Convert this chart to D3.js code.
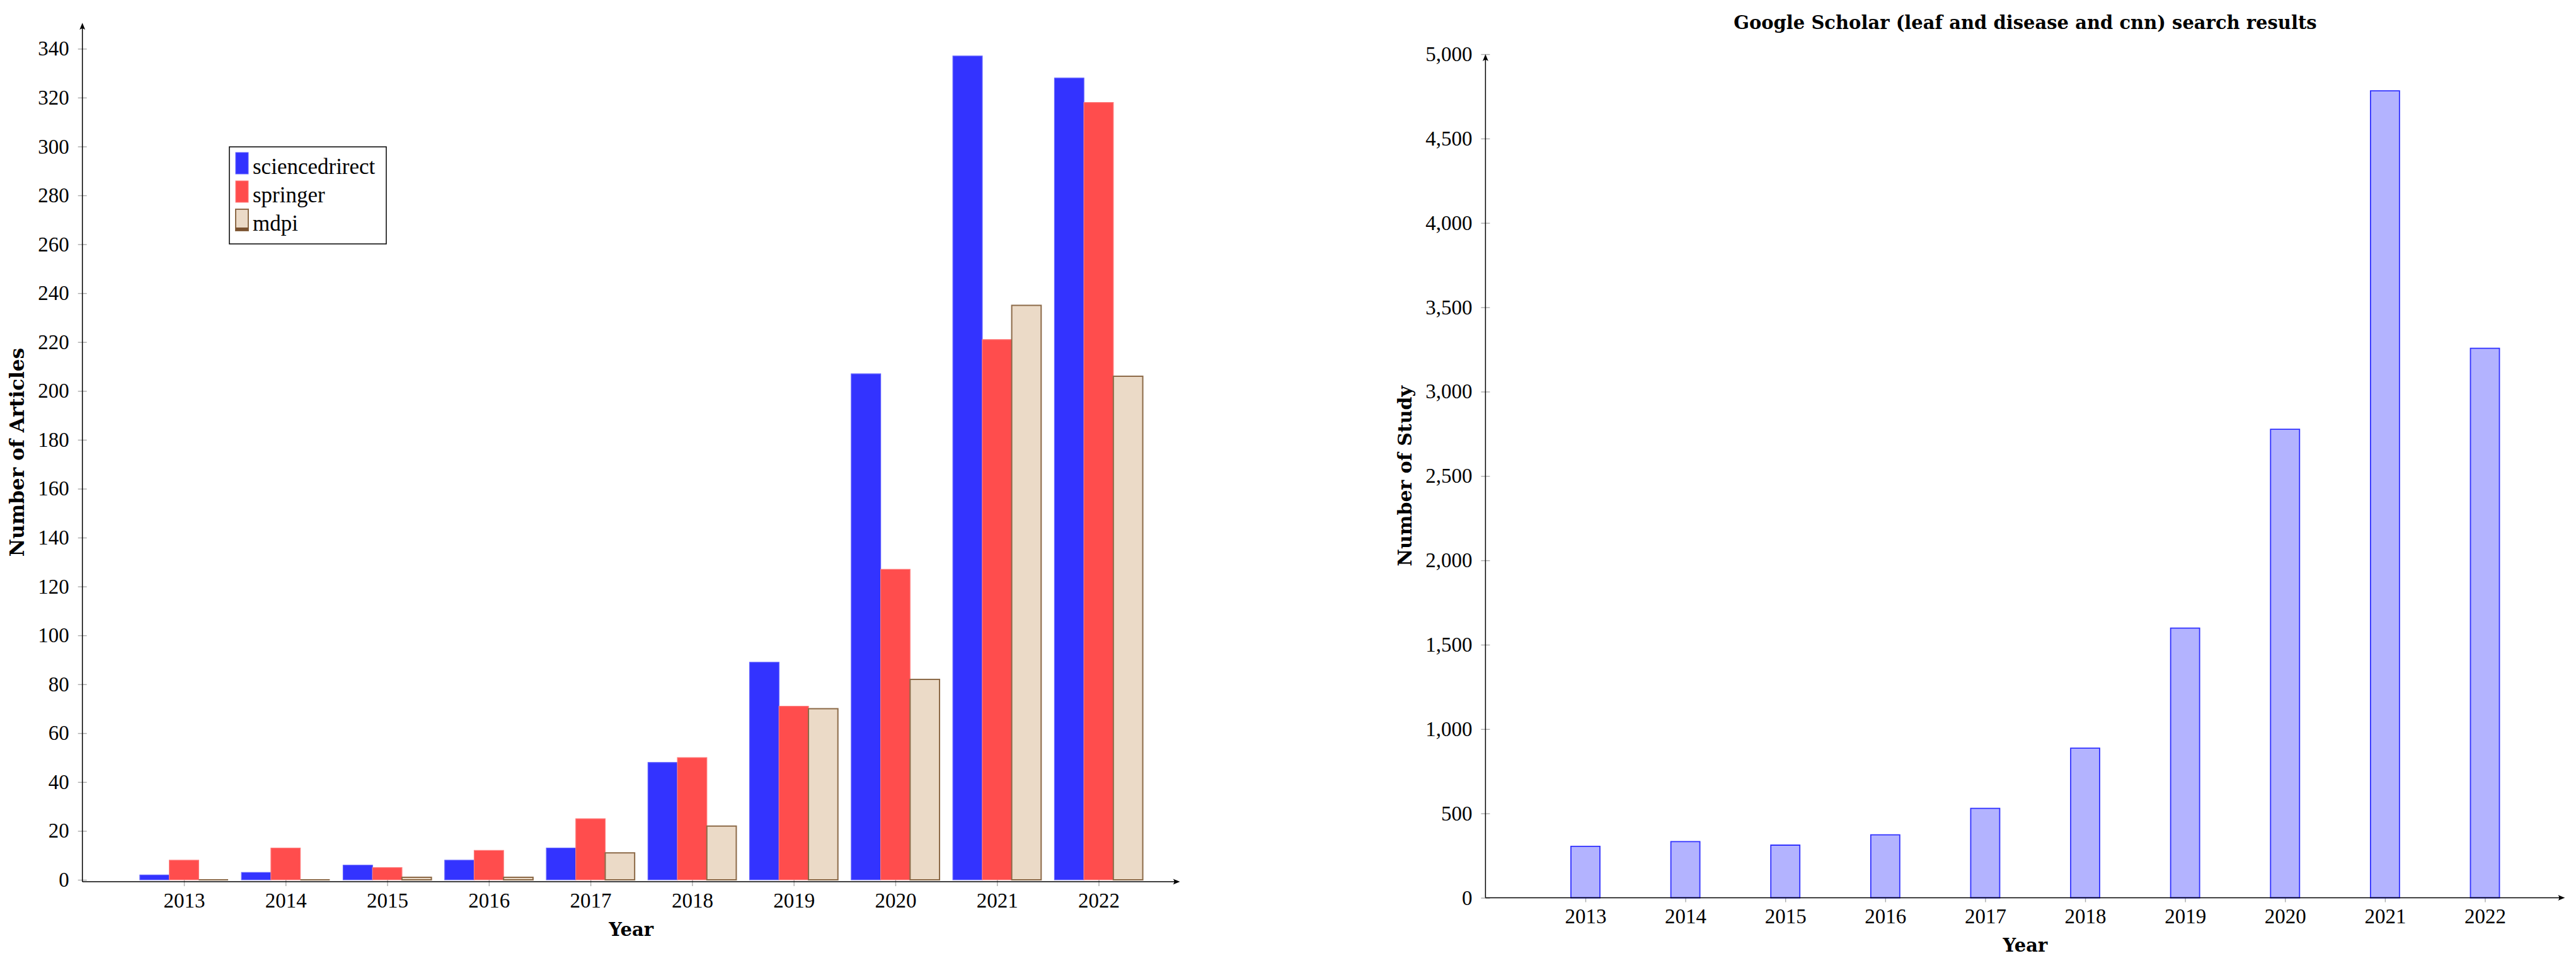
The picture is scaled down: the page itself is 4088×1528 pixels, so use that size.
<!DOCTYPE html>
<html>
<head>
<meta charset="utf-8">
<script src="https://cdn.jsdelivr.net/npm/d3@7"></script>
<style>
  body { margin: 0; background: #fff; }
  text { font-family: "Liberation Serif", serif; }
  .bold { font-family: "DejaVu Serif", serif; font-weight: bold; }
</style>
</head>
<body>
<script>
// data
var years = [2013, 2014, 2015, 2016, 2017, 2018, 2019, 2020, 2021, 2022];
var sciencedirect = [2, 3, 6, 8, 13, 48, 89, 207, 337, 328];
var springer = [8, 13, 5, 12, 25, 50, 71, 127, 221, 318];
var mdpi = [0, 0, 1, 1, 11, 22, 70, 82, 235, 206];
var scholar = [305, 333, 312, 373, 530, 887, 1598, 2777, 4783, 3257];

var leftTicks = [0, 20, 40, 60, 80, 100, 120, 140, 160, 180, 200, 220, 240, 260, 280, 300, 320, 340];
var rightTicks = [0, 500, 1000, 1500, 2000, 2500, 3000, 3500, 4000, 4500, 5000];

var seriesNames = ["sciencedrirect", "springer", "mdpi"];
var seriesValues = [sciencedirect, springer, mdpi];
var seriesFill = ["#3333ff", "#ff4d4d", "#ebdac7"];
var seriesStroke = ["#5e5eff", "#ff7a7a", "#8c6a48"];
var seriesStrokeW = [1.2, 1.2, 2];

var W = 4088, H = 1528;
var svg = d3.select("body").append("svg")
    .attr("width", W)
    .attr("height", H);

function barPath(x0, x1, y0, y1) {
  return "M" + x0 + "," + y0 + "V" + y1 + "H" + x1 + "V" + y0 + "Z";
}

function arrowUp(g, x, y) {
  g.append("path")
    .attr("d", "M" + x + "," + y + "L" + (x - 4.5) + "," + (y + 11) + "Q" + x + "," + (y + 7) + " " + (x + 4.5) + "," + (y + 11) + "Z")
    .attr("fill", "#000");
}
function arrowRight(g, x, y) {
  g.append("path")
    .attr("d", "M" + x + "," + y + "L" + (x - 11) + "," + (y - 4.5) + "Q" + (x - 7) + "," + y + " " + (x - 11) + "," + (y + 4.5) + "Z")
    .attr("fill", "#000");
}

function styleAxis(g) {
  g.select(".domain").remove();
  g.attr("font-family", "Liberation Serif, serif").attr("font-size", 33);
  g.selectAll(".tick line").attr("stroke", "#aaaaaa").attr("stroke-width", 1.4);
  g.selectAll(".tick text").attr("fill", "#000");
}

// ---------------- left chart ----------------
var xL = d3.scaleLinear().domain([2013, 2022]).range([292, 1743.5]);
var yL = d3.scaleLinear().domain([0, 340]).range([1396, 77.3]);
var axL = xL(2012), axLEnd = xL(2022.8);
var ayL = yL(-0.8), ayLTop = yL(350.6);
var bwL = 46.7;

var left = svg.append("g");

var gyL = left.append("g")
    .attr("transform", "translate(" + axL + ",0)")
    .call(d3.axisLeft(yL).tickValues(leftTicks).tickSize(7).tickPadding(14));
styleAxis(gyL);
gyL.selectAll(".tick line").attr("x1", 7);

var gxL = left.append("g")
    .attr("transform", "translate(0," + ayL + ")")
    .call(d3.axisBottom(xL).tickValues(years).tickFormat(d3.format("d")).tickSize(7).tickPadding(10));
styleAxis(gxL);
gxL.selectAll(".tick line").attr("y1", -7);

seriesValues.forEach(function(vals, s) {
  left.append("g").selectAll("path")
    .data(vals)
  .enter().append("path")
    .attr("d", function(d, i) {
      var cx = xL(years[i]) + (s - 1) * bwL;
      return barPath(cx - bwL / 2, cx + bwL / 2, yL(0), yL(d));
    })
    .attr("fill", seriesFill[s])
    .attr("stroke", seriesStroke[s])
    .attr("stroke-width", seriesStrokeW[s]);
});

// axis lines
left.append("line")
    .attr("x1", axL).attr("x2", axL).attr("y1", ayL).attr("y2", ayLTop + 4)
    .attr("stroke", "#000").attr("stroke-width", 1.5);
arrowUp(left, axL, ayLTop);
left.append("line")
    .attr("x1", axL).attr("x2", axLEnd - 4).attr("y1", ayL).attr("y2", ayL)
    .attr("stroke", "#000").attr("stroke-width", 1.5);
arrowRight(left, axLEnd, ayL);

// legend
var leg = left.append("g").attr("transform", "translate(364,233)");
leg.append("rect")
    .attr("width", 249).attr("height", 154)
    .attr("fill", "#fff").attr("stroke", "#000").attr("stroke-width", 1.5);
seriesNames.forEach(function(name, s) {
  var row = leg.append("g").attr("transform", "translate(10," + (9 + s * 45) + ")");
  row.append("rect")
      .attr("width", 20).attr("height", 34)
      .attr("fill", seriesFill[s]).attr("stroke", seriesStroke[s]).attr("stroke-width", s == 2 ? 2 : 1);
  if (s == 2) {
    row.append("rect").attr("y", 29).attr("width", 20).attr("height", 5).attr("fill", "#7a5230");
  }
  row.append("text")
      .attr("x", 27).attr("y", 34)
      .attr("font-size", 35)
      .text(name);
});

left.append("text")
    .attr("class", "bold")
    .attr("transform", "translate(38," + ((ayL + ayLTop) / 2) + ") rotate(-90)")
    .attr("text-anchor", "middle")
    .attr("font-size", 31)
    .text("Number of Articles");
left.append("text")
    .attr("class", "bold")
    .attr("x", (axL + axLEnd) / 2).attr("y", 1485)
    .attr("text-anchor", "middle")
    .attr("font-size", 29)
    .text("Year");

// ---------------- right chart ----------------
var xR = d3.scaleLinear().domain([2013, 2022]).range([2516, 3943.5]);
var yR = d3.scaleLinear().domain([0, 5000]).range([1424.5, 86]);
var axR = xR(2012), axREnd = xR(2022.8);
var bwR = 46;

var right = svg.append("g");

var gyR = right.append("g")
    .attr("transform", "translate(" + axR + ",0)")
    .call(d3.axisLeft(yR).tickValues(rightTicks).tickFormat(d3.format(",")).tickSize(7).tickPadding(14));
styleAxis(gyR);
gyR.selectAll(".tick line").attr("x1", 7);

var gxR = right.append("g")
    .attr("transform", "translate(0," + yR(0) + ")")
    .call(d3.axisBottom(xR).tickValues(years).tickFormat(d3.format("d")).tickSize(7).tickPadding(10));
styleAxis(gxR);
gxR.selectAll(".tick line").attr("y1", -7);

right.append("g").selectAll("path")
    .data(scholar)
  .enter().append("path")
    .attr("d", function(d, i) {
      var cx = xR(years[i]);
      return barPath(cx - bwR / 2, cx + bwR / 2, yR(0), yR(d));
    })
    .attr("fill", "#b3b3ff")
    .attr("stroke", "#3030ff")
    .attr("stroke-width", 1.8);

right.append("line")
    .attr("x1", axR).attr("x2", axR).attr("y1", yR(0)).attr("y2", yR(5000) + 4)
    .attr("stroke", "#000").attr("stroke-width", 1.5);
arrowUp(right, axR, yR(5000));
right.append("line")
    .attr("x1", axR).attr("x2", axREnd - 4).attr("y1", yR(0)).attr("y2", yR(0))
    .attr("stroke", "#000").attr("stroke-width", 1.5);
arrowRight(right, axREnd, yR(0));

right.append("text")
    .attr("class", "bold")
    .attr("x", (axR + axREnd) / 2).attr("y", 46)
    .attr("text-anchor", "middle")
    .attr("font-size", 29)
    .text("Google Scholar (leaf and disease and cnn) search results");

right.append("text")
    .attr("class", "bold")
    .attr("transform", "translate(2240," + ((yR(0) + yR(5000)) / 2) + ") rotate(-90)")
    .attr("text-anchor", "middle")
    .attr("font-size", 30)
    .text("Number of Study");
right.append("text")
    .attr("class", "bold")
    .attr("x", (axR + axREnd) / 2).attr("y", 1510)
    .attr("text-anchor", "middle")
    .attr("font-size", 29)
    .text("Year");
</script>
</body>
</html>
